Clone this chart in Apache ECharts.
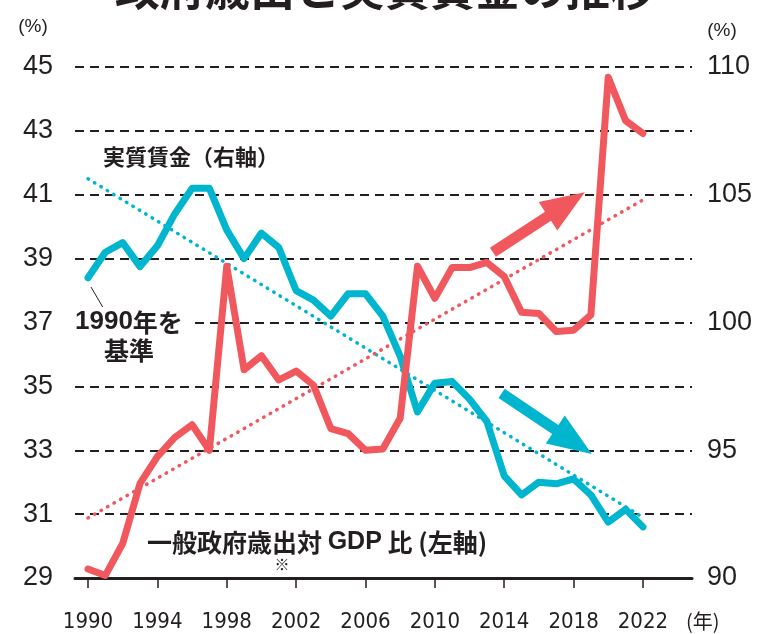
<!DOCTYPE html>
<html><head><meta charset="utf-8">
<script src="https://cdn.jsdelivr.net/npm/echarts@6/dist/echarts.min.js"></script>
<style>html,body{margin:0;padding:0;background:#fff}#c{width:770px;height:634px}</style>
</head><body><div id="c"></div>
<script>
// ---- data ----
const years = [1990,1991,1992,1993,1994,1995,1996,1997,1998,1999,2000,2001,2002,2003,2004,2005,2006,2007,2008,2009,2010,2011,2012,2013,2014,2015,2016,2017,2018,2019,2020,2021,2022];
// 一般政府歳出対GDP比 (left axis, %)
const govSpending = [38.4,39.2,39.5,38.75,39.4,40.4,41.2,41.2,39.9,39.0,39.8,39.35,38.0,37.7,37.2,37.9,37.9,37.2,35.95,34.2,35.1,35.15,34.6,33.9,32.2,31.6,32.0,31.95,32.1,31.6,30.75,31.15,30.6];
// 実質賃金 (right axis, 1990 = 100 basis)
const realWage = [90.35,90.1,91.35,93.7,94.75,95.5,96.0,95.0,102.2,98.15,98.7,97.75,98.1,97.55,95.85,95.65,95.0,95.05,96.25,102.2,100.95,102.15,102.15,102.35,101.8,100.4,100.35,99.65,99.7,100.3,109.6,107.9,107.4];
const govTrendYears = [1990, 2022];
const govTrendValues = [41.5, 30.9];
const wageTrendYears = [1990, 2022];
const wageTrendValues = [92.35, 104.8];
// arrows: [x1, y1, x2, y2] in data units
const wageArrow = [2013.35, 102.75, 2018.65, 105.1];
const govArrow = [2013.85, 34.78, 2019.05, 32.88];
// tick labels
const xTickValues = [1990,1994,1998,2002,2006,2010,2014,2018,2022];
const leftTicks = {min: 29, max: 45, interval: 2};
const rightTicks = {min: 90, max: 110, interval: 5};

const CYAN = '#00B5CE';
const RED = '#F1585D';
const INK = '#231f20';
const JP = "'Noto Sans CJK JP', sans-serif";
const NUM = "'Liberation Sans', Arial, sans-serif";
const NARROW = "'Liberation Sans Narrow', 'DejaVu Sans Condensed', 'Liberation Sans', sans-serif";

const pairs = (xs, ys) => xs.map((x, i) => [x, ys[i]]);

function arrowRender(color) {
  return function (params, api) {
    const p1 = api.coord([api.value(0), api.value(1)]);
    const p2 = api.coord([api.value(2), api.value(3)]);
    const dx = p2[0] - p1[0], dy = p2[1] - p1[1];
    const L = Math.hypot(dx, dy);
    const ux = dx / L, uy = dy / L, nx = -uy, ny = ux;
    const hl = 44, hw = 17, sw = 5.5;
    const bx = p2[0] - ux * hl, by = p2[1] - uy * hl;
    const pts = [
      [p1[0] + nx * sw, p1[1] + ny * sw],
      [bx + nx * sw, by + ny * sw],
      [bx + nx * hw, by + ny * hw],
      [p2[0], p2[1]],
      [bx - nx * hw, by - ny * hw],
      [bx - nx * sw, by - ny * sw],
      [p1[0] - nx * sw, p1[1] - ny * sw]
    ];
    return {type: 'polygon', shape: {points: pts}, style: {fill: color}};
  };
}

const chart = echarts.init(document.getElementById('c'), null, {renderer: 'canvas'});
const option = {
  animation: false,
  backgroundColor: '#fff',
  grid: {left: 75, right: 78, top: 67, bottom: 56, containLabel: false},
  xAxis: {
    type: 'value',
    min: 1989.25, max: 2024.83,
    splitLine: {show: false},
    axisLine: {show: true, onZero: false, lineStyle: {color: INK, width: 3}},
    axisTick: {show: true, customValues: xTickValues, length: 10, lineStyle: {color: INK, width: 1.5}},
    axisLabel: {customValues: xTickValues, margin: 33, fontSize: 22, fontFamily: NARROW, color: INK, formatter: v => String(v)}
  },
  yAxis: [
    {
      type: 'value', min: leftTicks.min, max: leftTicks.max, interval: leftTicks.interval,
      axisLine: {show: false}, axisTick: {show: false},
      axisLabel: {margin: 22, fontSize: 27, fontFamily: NUM, color: INK},
      splitLine: {show: true, lineStyle: {color: INK, width: 2, type: [9, 6]}}
    },
    {
      type: 'value', min: rightTicks.min, max: rightTicks.max, interval: rightTicks.interval,
      position: 'right',
      axisLine: {show: false}, axisTick: {show: false},
      axisLabel: {margin: 15, fontSize: 27, fontFamily: NUM, color: INK},
      splitLine: {show: false}
    }
  ],
  series: [
    {
      type: 'line', yAxisIndex: 0, data: pairs(govTrendYears, govTrendValues), showSymbol: false, silent: true,
      lineStyle: {color: CYAN, width: 3.5, type: [0.5, 7], cap: 'round'}, z: 2
    },
    {
      type: 'line', yAxisIndex: 1, data: pairs(wageTrendYears, wageTrendValues), showSymbol: false, silent: true,
      lineStyle: {color: RED, width: 3.5, type: [0.5, 7], cap: 'round'}, z: 2
    },
    {
      type: 'line', yAxisIndex: 0, data: pairs(years, govSpending), showSymbol: false,
      lineStyle: {color: CYAN, width: 7, cap: 'round', join: 'round'}, z: 3
    },
    {
      type: 'line', yAxisIndex: 1, data: pairs(years, realWage), showSymbol: false,
      lineStyle: {color: RED, width: 7, cap: 'round', join: 'round'}, z: 4
    },
    {
      type: 'custom', yAxisIndex: 1, data: [wageArrow], renderItem: arrowRender(RED),
      encode: {x: [0, 2], y: [1, 3]}, z: 5
    },
    {
      type: 'custom', yAxisIndex: 0, data: [govArrow], renderItem: arrowRender(CYAN),
      encode: {x: [0, 2], y: [1, 3]}, z: 5
    }
  ],
  graphic: [
    {type: 'text', left: 'center', top: -34, style: {text: '政府歳出と実質賃金の推移', fontSize: 45, fontWeight: 'bold', fontFamily: JP, fill: INK}},
    {type: 'text', x: 33, y: 27, style: {text: '(%)', fontSize: 19, fontFamily: NUM, fill: INK, align: 'center', verticalAlign: 'middle'}},
    {type: 'text', x: 722, y: 31, style: {text: '(%)', fontSize: 19, fontFamily: NUM, fill: INK, align: 'center', verticalAlign: 'middle'}},
    {type: 'text', x: 686, y: 621, style: {text: '(年)', fontSize: 20, fontFamily: JP, fill: INK, align: 'left', verticalAlign: 'middle'}},
    {type: 'text', x: 103, y: 157, style: {text: '実質賃金（右軸）', fontSize: 22, fontWeight: 'bold', fontFamily: JP, fill: INK, align: 'left', verticalAlign: 'middle'}},
    {type: 'text', x: 75, y: 322, z: 10, style: {
      text: '{n|1990}{j|年を}', align: 'left', verticalAlign: 'middle',
      backgroundColor: '#fff', padding: [2, 9, 2, 0],
      rich: {
        n: {fontSize: 26, fontWeight: 'bold', fontFamily: NUM, fill: INK},
        j: {fontSize: 25, fontWeight: 'bold', fontFamily: JP, fill: INK}
      }
    }},
    {type: 'text', x: 129, y: 350, z: 10, style: {text: '基準', fontSize: 25, fontWeight: 'bold', fontFamily: JP, fill: INK, align: 'center', verticalAlign: 'middle'}},
    {type: 'line', shape: {x1: 91, y1: 287, x2: 105, y2: 311}, style: {stroke: INK, lineWidth: 1}},
    {type: 'text', x: 147, y: 542, style: {
      text: '{j|一般政府歳出対 }{l|GDP}{j| 比 (左軸)}', align: 'left', verticalAlign: 'middle',
      rich: {
        j: {fontSize: 25, fontWeight: 'bold', fontFamily: JP, fill: INK},
        l: {fontSize: 25, fontWeight: 'bold', fontFamily: NUM, fill: INK}
      }
    }},
    {type: 'text', x: 282, y: 564, style: {text: '※', fontSize: 15, fontFamily: JP, fill: INK, align: 'center', verticalAlign: 'middle'}}
  ]
};
chart.setOption(option);
</script>
</body></html>
